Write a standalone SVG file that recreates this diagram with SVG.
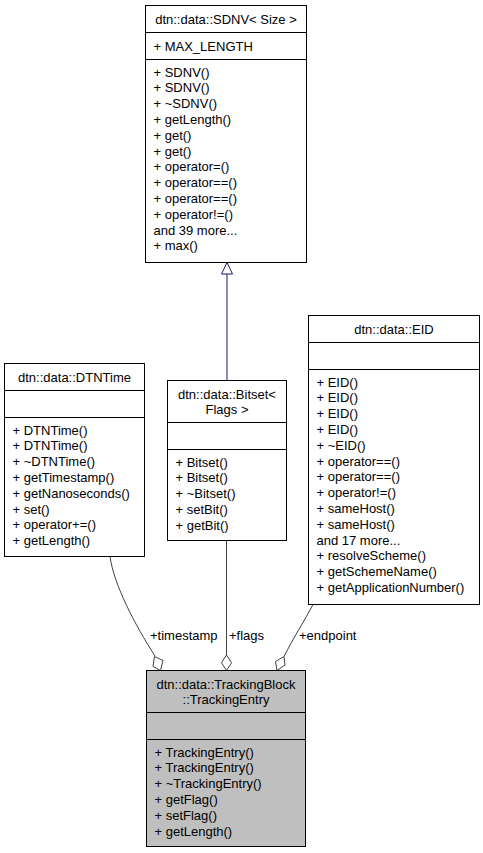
<svg xmlns="http://www.w3.org/2000/svg" width="483" height="853" viewBox="0 0 483 853">
<style>
  text { font-family: "Liberation Sans", Arial, Helvetica, sans-serif; font-size: 13px; fill: #000; }
  .box { fill: #fff; stroke: #000; stroke-width: 1; }
  .main { fill: #bfbfbf; stroke: #000; stroke-width: 1; }
  .sep { stroke: #000; stroke-width: 1; }
  .ctr { text-anchor: middle; }
  .use { fill: none; stroke: #404040; stroke-width: 1; }
  .dia { fill: #fff; stroke: #404040; stroke-width: 1; }
  .inh { fill: none; stroke: #191970; stroke-width: 1; }
  .tri { fill: #fff; stroke: #191970; stroke-width: 1; }
</style>
<rect width="483" height="853" fill="#fff"/>

<g id="connectors">
  <path class="inh" d="M227,380.5 L227,274"/>
  <polygon class="tri" points="227,262.5 232.5,274 221.5,274"/>
  <path class="use" d="M110,556.5 C114,585 135,625 155,656"/>
  <polygon class="dia" points="154.5,656.5 163,660.5 160.5,670.5 153,666.5"/>
  <path class="use" d="M226.5,540.5 L226.5,655"/>
  <polygon class="dia" points="226.5,655 231.5,662.75 226.5,670.5 221.5,662.75"/>
  <path class="use" d="M313,604.5 C305,620 292,640 284,656.5"/>
  <polygon class="dia" points="284,656.5 285,665 277,670.5 275.5,661.5"/>
  <text x="150" y="640">+timestamp</text>
  <text x="229" y="640">+flags</text>
  <text x="299" y="640">+endpoint</text>
</g>

<g id="node-sdnv">
  <rect class="box" x="145.5" y="5.5" width="161" height="257"/>
  <line class="sep" x1="145.5" y1="32.5" x2="306.5" y2="32.5"/>
  <line class="sep" x1="145.5" y1="59.5" x2="306.5" y2="59.5"/>
  <text class="ctr" x="226" y="23.5">dtn::data::SDNV&lt; Size &gt;</text>
  <text x="153.5" y="50.5">+ MAX_LENGTH</text>
  <text x="153.5" y="76.5">+ SDNV()</text>
  <text x="153.5" y="92.3">+ SDNV()</text>
  <text x="153.5" y="108.1">+ ~SDNV()</text>
  <text x="153.5" y="123.9">+ getLength()</text>
  <text x="153.5" y="139.7">+ get()</text>
  <text x="153.5" y="155.5">+ get()</text>
  <text x="153.5" y="171.3">+ operator=()</text>
  <text x="153.5" y="187.1">+ operator==()</text>
  <text x="153.5" y="202.9">+ operator==()</text>
  <text x="153.5" y="218.7">+ operator!=()</text>
  <text x="153.5" y="234.5">and 39 more...</text>
  <text x="153.5" y="250.3">+ max()</text>
</g>

<g id="node-dtntime">
  <rect class="box" x="4.5" y="363.5" width="140" height="193"/>
  <line class="sep" x1="4.5" y1="390.5" x2="144.5" y2="390.5"/>
  <line class="sep" x1="4.5" y1="417.5" x2="144.5" y2="417.5"/>
  <text class="ctr" x="74.5" y="381.5">dtn::data::DTNTime</text>
  <text x="12.5" y="434.5">+ DTNTime()</text>
  <text x="12.5" y="450.3">+ DTNTime()</text>
  <text x="12.5" y="466.1">+ ~DTNTime()</text>
  <text x="12.5" y="481.9">+ getTimestamp()</text>
  <text x="12.5" y="497.7">+ getNanoseconds()</text>
  <text x="12.5" y="513.5">+ set()</text>
  <text x="12.5" y="529.3">+ operator+=()</text>
  <text x="12.5" y="545.1">+ getLength()</text>
</g>

<g id="node-bitset">
  <rect class="box" x="167.5" y="380.5" width="119" height="160"/>
  <line class="sep" x1="167.5" y1="422.5" x2="286.5" y2="422.5"/>
  <line class="sep" x1="167.5" y1="449.5" x2="286.5" y2="449.5"/>
  <text class="ctr" x="227" y="398.5">dtn::data::Bitset&lt;</text>
  <text class="ctr" x="227" y="414.3">Flags &gt;</text>
  <text x="175.5" y="466.5">+ Bitset()</text>
  <text x="175.5" y="482.3">+ Bitset()</text>
  <text x="175.5" y="498.1">+ ~Bitset()</text>
  <text x="175.5" y="513.9">+ setBit()</text>
  <text x="175.5" y="529.7">+ getBit()</text>
</g>

<g id="node-eid">
  <rect class="box" x="308.5" y="315.5" width="171" height="289"/>
  <line class="sep" x1="308.5" y1="342.5" x2="479.5" y2="342.5"/>
  <line class="sep" x1="308.5" y1="369.5" x2="479.5" y2="369.5"/>
  <text class="ctr" x="394" y="333.5">dtn::data::EID</text>
  <text x="316.5" y="386.5">+ EID()</text>
  <text x="316.5" y="402.3">+ EID()</text>
  <text x="316.5" y="418.1">+ EID()</text>
  <text x="316.5" y="433.9">+ EID()</text>
  <text x="316.5" y="449.7">+ ~EID()</text>
  <text x="316.5" y="465.5">+ operator==()</text>
  <text x="316.5" y="481.3">+ operator==()</text>
  <text x="316.5" y="497.1">+ operator!=()</text>
  <text x="316.5" y="512.9">+ sameHost()</text>
  <text x="316.5" y="528.7">+ sameHost()</text>
  <text x="316.5" y="544.5">and 17 more...</text>
  <text x="316.5" y="560.3">+ resolveScheme()</text>
  <text x="316.5" y="576.1">+ getSchemeName()</text>
  <text x="316.5" y="591.9">+ getApplicationNumber()</text>
</g>

<g id="node-trackingentry">
  <rect class="main" x="146.5" y="670.5" width="159" height="176"/>
  <line class="sep" x1="146.5" y1="712.5" x2="305.5" y2="712.5"/>
  <line class="sep" x1="146.5" y1="739.5" x2="305.5" y2="739.5"/>
  <text class="ctr" x="226" y="688.5">dtn::data::TrackingBlock</text>
  <text class="ctr" x="226" y="704.3">::TrackingEntry</text>
  <text x="154.5" y="756.5">+ TrackingEntry()</text>
  <text x="154.5" y="772.3">+ TrackingEntry()</text>
  <text x="154.5" y="788.1">+ ~TrackingEntry()</text>
  <text x="154.5" y="803.9">+ getFlag()</text>
  <text x="154.5" y="819.7">+ setFlag()</text>
  <text x="154.5" y="835.5">+ getLength()</text>
</g>
</svg>
